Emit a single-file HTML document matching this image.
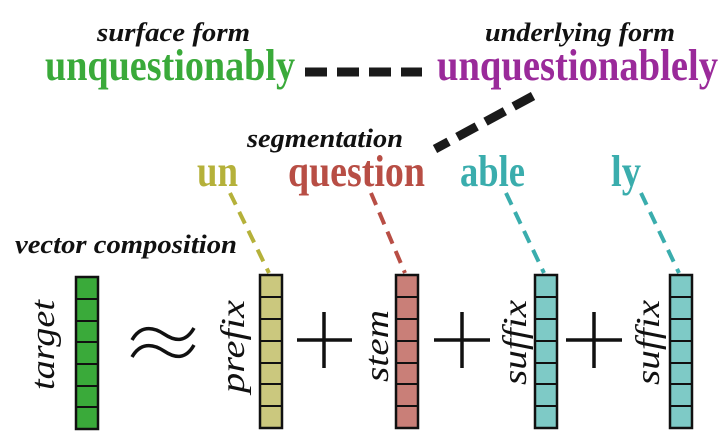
<!DOCTYPE html>
<html><head><meta charset="utf-8"><style>html,body{margin:0;padding:0;background:#fff}svg{display:block}svg text{font-family:"Liberation Serif",serif}</style></head>
<body>
<svg width="720" height="436" viewBox="0 0 720 436" xmlns="http://www.w3.org/2000/svg">
<g font-style="italic" font-weight="bold" fill="#111" font-size="26">
<text x="97" y="41" textLength="153" lengthAdjust="spacingAndGlyphs">surface form</text>
<text x="485" y="41" textLength="190" lengthAdjust="spacingAndGlyphs">underlying form</text>
<text x="247" y="147" textLength="156" lengthAdjust="spacingAndGlyphs">segmentation</text>
<text x="15" y="253" textLength="222" lengthAdjust="spacingAndGlyphs">vector composition</text>
</g>
<g font-weight="bold" font-size="44">
<text x="45" y="80" fill="#3aaa3a" textLength="250" lengthAdjust="spacingAndGlyphs">unquestionably</text>
<text x="437" y="80" fill="#9a2a9a" textLength="281" lengthAdjust="spacingAndGlyphs">unquestionablely</text>
<text x="197" y="186" fill="#b5b13a" textLength="41" lengthAdjust="spacingAndGlyphs">un</text>
<text x="288" y="186" fill="#b84e45" textLength="137" lengthAdjust="spacingAndGlyphs">question</text>
<text x="460" y="186" fill="#3aadad" textLength="65" lengthAdjust="spacingAndGlyphs">able</text>
<text x="611" y="186" fill="#3aadad" textLength="30" lengthAdjust="spacingAndGlyphs">ly</text>
</g>
<g stroke="#1a1a1a" stroke-width="9" fill="none">
<line x1="305" y1="72" x2="422" y2="72" stroke-dasharray="22,10"/>
<line x1="533" y1="96" x2="435" y2="149" stroke-dasharray="22,10"/>
</g>
<g stroke-width="4" stroke-dasharray="13,8" fill="none">
<line x1="230" y1="193" x2="269" y2="273" stroke="#b5b13a"/>
<line x1="371" y1="193" x2="405" y2="273" stroke="#b84e45"/>
<line x1="506" y1="193" x2="544" y2="273" stroke="#3aadad"/>
<line x1="641" y1="193" x2="679" y2="273" stroke="#3aadad"/>
</g>
<g stroke="#111" stroke-width="2.5">
<rect x="76" y="277" width="22" height="152" fill="#3aaa3a"/>
<rect x="260" y="275" width="22" height="153" fill="#cbc87e"/>
<rect x="396" y="275" width="22" height="153" fill="#c97f78"/>
<rect x="535" y="275" width="22" height="153" fill="#7ecac6"/>
<rect x="670" y="275" width="22" height="153" fill="#7ecac6"/>
</g>
<g stroke="#111" stroke-width="2">
<path d="M76 299h22M76 321h22M76 342h22M76 364h22M76 386h22M76 407h22"/>
<path d="M260 297h22M260 319h22M260 341h22M260 363h22M260 384h22M260 406h22"/>
<path d="M396 297h22M396 319h22M396 341h22M396 363h22M396 384h22M396 406h22"/>
<path d="M535 297h22M535 319h22M535 341h22M535 363h22M535 384h22M535 406h22"/>
<path d="M670 297h22M670 319h22M670 341h22M670 363h22M670 384h22M670 406h22"/>
</g>
<g stroke="#111" stroke-width="3.5" fill="none">
<path d="M297 340h55M324 312v56"/>
<path d="M434 340h56M462 312v56"/>
<path d="M566 340h56M594 312v56"/>
<path d="M132 340c8-14 20-14 32-6s22 8 30-6"/>
<path d="M132 357c8-14 20-14 32-6s22 8 30-6"/>
</g>
<g font-style="italic" font-size="34" fill="#111">
<text transform="translate(54,390) rotate(-90)" textLength="90" lengthAdjust="spacingAndGlyphs">target</text>
<text transform="translate(244,393) rotate(-90)" textLength="93" lengthAdjust="spacingAndGlyphs">prefix</text>
<text transform="translate(388,382) rotate(-90)" textLength="72" lengthAdjust="spacingAndGlyphs">stem</text>
<text transform="translate(526,385) rotate(-90)" textLength="85" lengthAdjust="spacingAndGlyphs">suffix</text>
<text transform="translate(659,385) rotate(-90)" textLength="85" lengthAdjust="spacingAndGlyphs">suffix</text>
</g>
</svg>
</body></html>
